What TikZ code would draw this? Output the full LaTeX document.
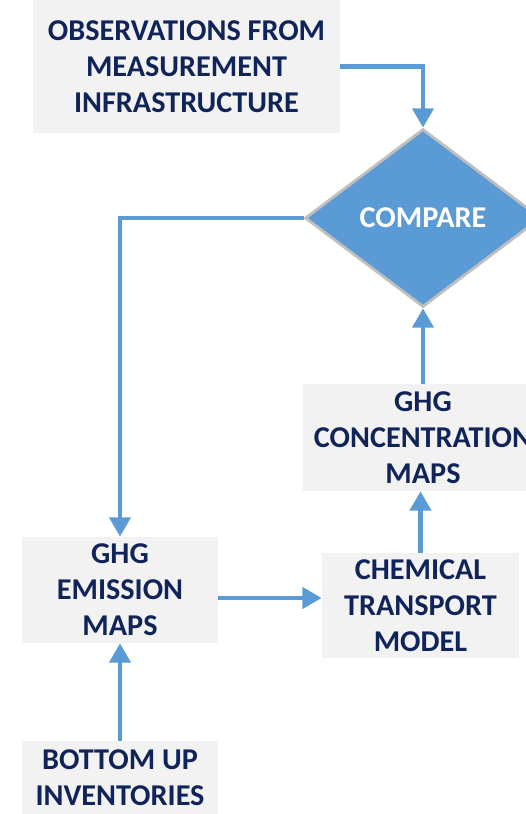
\documentclass[tikz,border=0pt]{standalone}
\usepackage{fontspec}
\setmainfont{Carlito}
\usepackage{tikz}
\usetikzlibrary{shapes.geometric,arrows.meta}

\definecolor{flowblue}{HTML}{5B9BD5}
\definecolor{boxgray}{HTML}{F2F2F2}
\definecolor{navy}{HTML}{10245A}
\definecolor{rimgray}{HTML}{BFBFBF}

\begin{document}
\begin{tikzpicture}[
                box/.style={fill=boxgray, text=navy, align=center, inner sep=0pt,
                    font=\fontsize{17.2}{20.4}\selectfont\bfseries},
                flow/.style={draw=flowblue, line width=2.4pt,
                    -{Triangle[length=11pt,width=12pt]}}]
                \useasboundingbox (0,0) rectangle (10.52,-16.28);
                \node[box, minimum width=6.14cm, minimum height=2.66cm](obs) at (3.73,-1.33){OBSERVATIONS FROM\\MEASUREMENT\\INFRASTRUCTURE};
                \node[diamond, fill=flowblue, draw=rimgray, line width=1.6pt, inner sep=0pt,
                    minimum width=4.72cm, minimum height=3.56cm, text=white,
                    font=\fontsize{17.2}{20.4}\selectfont\bfseries](cmp) at (8.46,-4.36){COMPARE};
                \node[box, minimum width=4.8cm, minimum height=2.14cm](conc) at (8.46,-8.75){GHG\\CONCENTRATION\\MAPS};
                \node[box, minimum width=3.92cm, minimum height=2.12cm](emis) at (2.40,-11.80){GHG\\EMISSION\\MAPS};
                \node[box, minimum width=3.94cm, minimum height=2.10cm](chem) at (8.41,-12.11){CHEMICAL\\TRANSPORT\\MODEL};
                \node[box, minimum width=3.92cm, minimum height=1.48cm](bot) at (2.40,-15.56){BOTTOM UP\\INVENTORIES};
                \coordinate (e) at ([yshift=-1.6mm]emis.east);
                \draw[flow] (obs.east) -| (cmp.north);
                \draw[flow] (cmp.west) -| (emis.north);
                \draw[flow] (e) -- (e -| chem.west);
                \draw[flow] (chem.north) -- (chem.north |- conc.south);
                \draw[flow] (conc.north) -- (cmp.south);
                \draw[flow] (bot.north) -- (emis.south);
                \end{tikzpicture}
\end{document}
